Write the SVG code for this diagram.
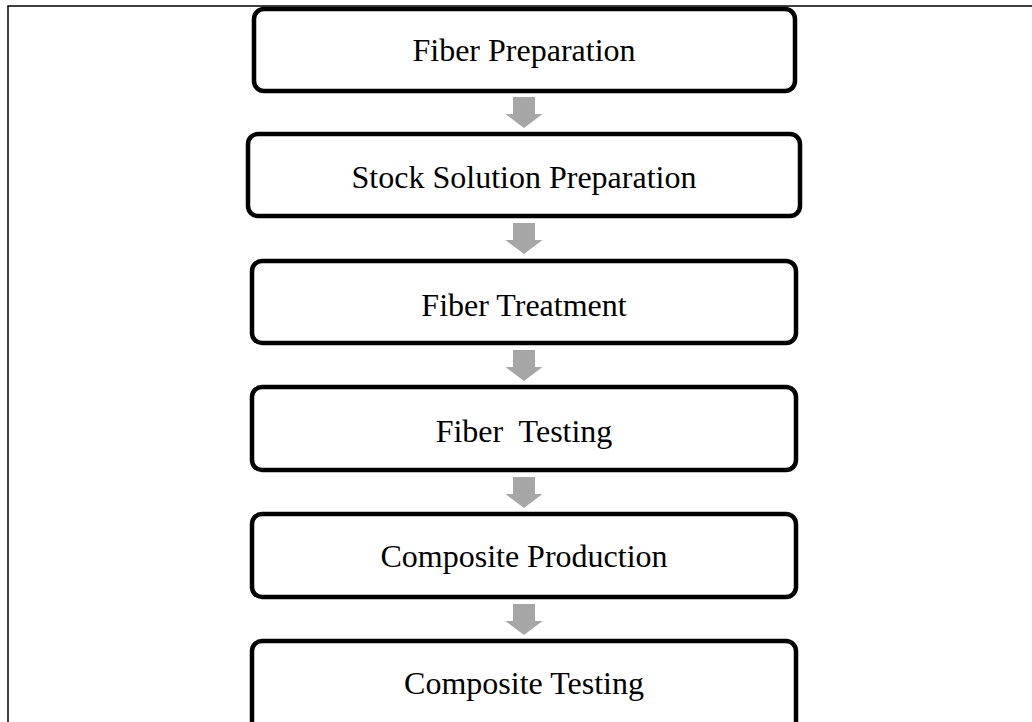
<svg xmlns="http://www.w3.org/2000/svg" width="1032" height="722" viewBox="0 0 1032 722">
  <style>
    .step rect { fill: #ffffff; stroke: #000000; stroke-width: 4.5; }
    .step text { font-family: "Liberation Serif", "Times New Roman", serif; font-size: 32px; fill: #000000; text-anchor: middle; }
    .flow { fill: #a6a6a6; }
    .frame { stroke: #000000; stroke-width: 1.5; fill: none; }
  </style>
  <defs>
    <!-- block arrow pointing down, origin at top centre -->
    <path id="down" d="M-11,0 H11 V17 H18.5 L0,31 L-18.5,17 H-11 Z"/>
  </defs>

  <rect width="1032" height="722" fill="#ffffff"/>
  <path class="frame" d="M8,722 V6 H1032"/>

  <g id="connectors" class="flow">
    <use href="#down" x="524" y="97"/>
    <use href="#down" x="524" y="223"/>
    <use href="#down" x="524" y="350"/>
    <use href="#down" x="524" y="477"/>
    <use href="#down" x="524" y="604"/>
  </g>

  <g id="fiber-preparation" class="step">
    <rect x="254" y="9" width="541" height="82" rx="10"/>
    <text x="524" y="61">Fiber Preparation</text>
  </g>
  <g id="stock-solution-preparation" class="step">
    <rect x="248" y="134" width="552" height="82" rx="10"/>
    <text x="524" y="188">Stock Solution Preparation</text>
  </g>
  <g id="fiber-treatment" class="step">
    <rect x="252" y="261" width="544" height="82" rx="10"/>
    <text x="524" y="316">Fiber Treatment</text>
  </g>
  <g id="fiber-testing" class="step">
    <rect x="252" y="387" width="544" height="83" rx="10"/>
    <text x="524" y="442" xml:space="preserve">Fiber  Testing</text>
  </g>
  <g id="composite-production" class="step">
    <rect x="252" y="514" width="544" height="83" rx="10"/>
    <text x="524" y="567">Composite Production</text>
  </g>
  <g id="composite-testing" class="step">
    <rect x="252" y="641" width="544" height="90" rx="10"/>
    <text x="524" y="694">Composite Testing</text>
  </g>
</svg>
